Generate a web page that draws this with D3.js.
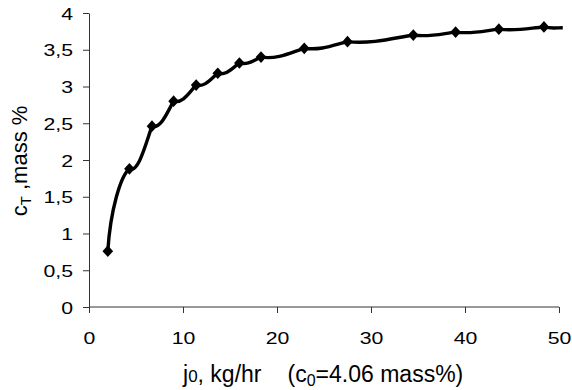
<!DOCTYPE html>
<html><head><meta charset="utf-8">
<script src="https://cdn.jsdelivr.net/npm/d3@7"></script>
<style>
body{margin:0;background:#fff;}
text{font-family:"Liberation Sans",Arial,sans-serif;fill:#000;}
</style></head>
<body><svg id="c" width="572" height="390"></svg>
<script>
// Data
const flowRate = [2.0, 4.3, 6.7, 9.0, 11.4, 13.7, 16.0, 18.3, 22.9, 27.5, 34.5, 39.0, 43.6, 48.4];
const concentration = [0.76, 1.88, 2.46, 2.80, 3.02, 3.18, 3.32, 3.40, 3.52, 3.61, 3.70, 3.74, 3.78, 3.81];
// the smoothed line continues slightly past the last marker
const lineEndX = [50.4];
const lineEndY = [3.80];
const xTicks = [0, 10, 20, 30, 40, 50];
const yTicks = [0, 0.5, 1, 1.5, 2, 2.5, 3, 3.5, 4];

const svg = d3.select("#c");
const x = d3.scaleLinear().domain([0, 50]).range([89, 559]);
const y = d3.scaleLinear().domain([0, 4]).range([307, 13]);
const fmt = d => String(d).replace(".", ",");

const ya = svg.append("g").attr("transform", "translate(89,0)")
  .call(d3.axisLeft(y).tickValues(yTicks).tickFormat(fmt).tickSize(6).tickSizeOuter(0));
const xa = svg.append("g").attr("transform", "translate(0,307)")
  .call(d3.axisBottom(x).tickValues(xTicks).tickSize(6).tickSizeOuter(0));
[ya, xa].forEach(g => {
  g.select(".domain").attr("stroke", "#333").attr("stroke-width", 1);
  g.selectAll(".tick line").attr("stroke", "#333");
  g.selectAll(".tick text").attr("font-size", 17).attr("font-family", "Liberation Sans, Arial, sans-serif").attr("fill", "#000").attr("x", null).attr("y", null);
});
ya.selectAll(".tick text").attr("dy", "0.36em").attr("transform", "translate(-16,0) scale(1.25,1)");
xa.selectAll(".tick text").attr("dy", null).attr("transform", "translate(0,37) scale(1.25,1)");
xa.select(".domain").attr("d", `M${x(0)},0H${x(50)}`);

// Excel-like smoothed line: flat departure (slight dip), steeper arrival
function SmoothStep(context) { this._context = context; }
SmoothStep.prototype = {
  areaStart() { this._line = 0; }, areaEnd() { this._line = NaN; },
  lineStart() { this._pts = []; },
  point(px, py) { this._pts.push([+px, +py]); },
  lineEnd() {
    const p = this._pts, c = this._context;
    if (!p.length) return;
    c.moveTo(p[0][0], p[0][1]);
    for (let i = 1; i < p.length; i++) {
      const [x0, y0] = p[i - 1], [x1, y1] = p[i];
      const dx = x1 - x0, h = Math.max(y0 - y1, 0);
      let c1, c2;
      if (i === 1) { c1 = [x0 + 0.12 * dx, y0 - 0.5 * h]; c2 = [x1 - 0.4 * dx, y1 + 0.08 * h]; }
      else { c1 = [x0 + 0.4 * dx, y0 + 0.05 * h + 2]; c2 = [x1 - 0.3 * dx, y1 + 0.45 * h]; }
      c.bezierCurveTo(c1[0], c1[1], c2[0], c2[1], x1, y1);
    }
  }
};
const smoothStep = ctx => new SmoothStep(ctx);

const pts = flowRate.map((v, i) => [v, concentration[i]]).concat(lineEndX.map((v, i) => [v, lineEndY[i]]));
const line = d3.line().x(d => x(d[0])).y(d => y(d[1])).curve(smoothStep);
svg.append("path").attr("d", line(pts)).attr("fill", "none").attr("stroke", "#000")
  .attr("stroke-width", 3.4).attr("stroke-linejoin", "round").attr("stroke-linecap", "butt");

svg.selectAll(".m").data(flowRate).join("path")
  .attr("d", d3.symbol(d3.symbolDiamond2, 72))
  .attr("transform", (d, i) => `translate(${x(d)},${y(concentration[i])}) scale(1,1.1)`)
  .attr("fill", "#000");

// axis titles
const xt = svg.append("text").attr("x", 183).attr("y", 382).attr("font-size", 23);
xt.append("tspan").text("j");
xt.append("tspan").attr("font-size", 17).text("0");
xt.append("tspan").text(", kg/hr");
xt.append("tspan").attr("dx", 26).text("(c");
xt.append("tspan").attr("font-size", 16).attr("dy", 4).text("0");
xt.append("tspan").attr("dy", -4).text("=4.06 mass%)");

const yt = svg.append("text").attr("transform", "translate(27,161) rotate(-90)").attr("text-anchor", "middle").attr("font-size", 22);
yt.append("tspan").text("c");
yt.append("tspan").attr("font-size", 15).attr("dy", 4).text("T");
yt.append("tspan").attr("dy", -4).text(" ,mass %");
</script></body></html>
